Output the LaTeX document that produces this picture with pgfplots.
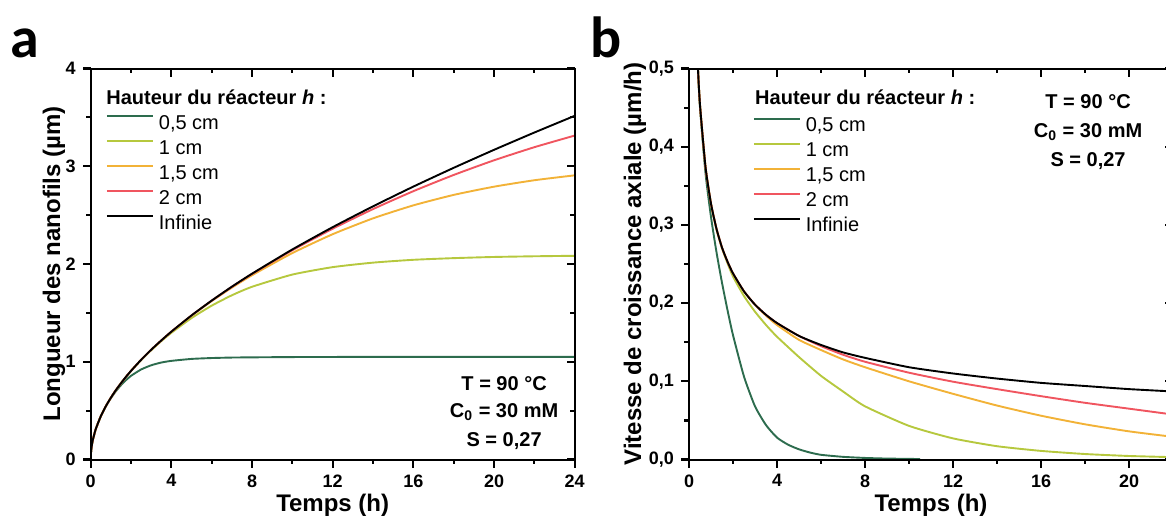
\documentclass[border=0pt]{standalone}
\usepackage{pgfplots}
\pgfplotsset{compat=1.18}
\usepackage{pgfplotstable}
\usepackage{fontspec}
\setmainfont{Liberation Sans}
\newfontfamily\letterfont{Carlito}
\definecolor{cg}{RGB}{45,108,78}
\definecolor{cy}{RGB}{182,200,62}
\definecolor{co}{RGB}{242,178,55}
\definecolor{cr}{RGB}{240,85,95}
\tikzset{tk/.style={black, line width=1.1pt}}

\pgfplotstableread{
t h05 h1 h15 h2 inf
0 0 0 0 0 0
0.02 0.087 0.087 0.087 0.087 0.087
0.05 0.137 0.137 0.137 0.137 0.137
0.1 0.195 0.195 0.195 0.195 0.195
0.25 0.310 0.311 0.311 0.311 0.311
0.5 0.442 0.442 0.442 0.442 0.442
0.75 0.543 0.545 0.545 0.545 0.545
1 0.627 0.632 0.632 0.632 0.632
1.25 0.699 0.709 0.710 0.710 0.710
1.5 0.760 0.780 0.780 0.780 0.780
1.75 0.812 0.845 0.846 0.846 0.846
2 0.856 0.906 0.907 0.907 0.907
2.5 0.921 1.017 1.020 1.020 1.020
3 0.964 1.118 1.123 1.123 1.123
3.5 0.992 1.211 1.217 1.218 1.218
4 1.009 1.296 1.307 1.308 1.308
5 1.029 1.447 1.471 1.473 1.474
6 1.038 1.574 1.621 1.625 1.626
7 1.043 1.680 1.758 1.766 1.768
8 1.045 1.767 1.885 1.898 1.901
10 1.048 1.892 2.112 2.141 2.149
12 1.049 1.968 2.305 2.361 2.377
14 1.050 2.014 2.467 2.562 2.590
16 1.050 2.043 2.600 2.745 2.792
18 1.050 2.060 2.707 2.911 2.984
20 1.050 2.072 2.791 3.061 3.168
22 1.050 2.079 2.857 3.195 3.345
24 1.050 2.084 2.907 3.314 3.516
}\tablelength

\pgfplotstableread{
t v
0.3 0.579
0.4 0.502
0.5 0.450
0.75 0.366
1 0.310
1.25 0.265
1.5 0.226
1.75 0.191
2 0.159
2.5 0.106
3 0.068
3.5 0.044
4 0.028
4.5 0.019
5 0.013
5.5 0.0089
6 0.006
7 0.0034
8 0.002
9 0.0012
10.5 0.0006
}\tablegreen

\pgfplotstableread{
t h1 h15 h2 inf
0.3 0.579 0.579 0.579 0.579
0.4 0.504 0.504 0.504 0.504
0.5 0.453 0.453 0.453 0.453
0.75 0.374 0.374 0.374 0.374
1 0.327 0.327 0.327 0.327
1.25 0.294 0.295 0.295 0.295
1.5 0.270 0.271 0.271 0.271
1.75 0.251 0.253 0.253 0.253
2 0.234 0.238 0.238 0.238
2.5 0.209 0.215 0.215 0.215
3 0.189 0.198 0.198 0.198
3.5 0.172 0.184 0.185 0.185
4 0.157 0.172 0.1745 0.1745
5 0.131 0.153 0.158 0.158
6 0.107 0.140 0.145 0.1465
7 0.087 0.128 0.134 0.137
8 0.068 0.118 0.125 0.130
10 0.043 0.100 0.111 0.118
12 0.027 0.084 0.0995 0.110
14 0.017 0.069 0.090 0.1035
16 0.011 0.056 0.081 0.098
18 0.007 0.045 0.0725 0.094
20 0.0045 0.036 0.065 0.090
22 0.003 0.029 0.0575 0.087
}\tablevelo

\pgfplotsset{
  myboxax/.style={
    scale only axis, width=242pt, height=195.5pt, anchor=south west,
    axis line style={line width=1pt},
    major tick length=4pt, minor tick length=2.4pt,
  },
  mypanelax/.style={
    myboxax, tick align=outside, xtick pos=left, ytick pos=left,
    ticklabel style={font=\bfseries\fontsize{9}{10}\selectfont},
    label style={font=\bfseries\fontsize{12}{14}\selectfont},
    xlabel style={at={(axis description cs:0.5,-0.134)}, anchor=base},
    legend style={draw=none, fill=none, inner sep=0pt, outer sep=0pt, row sep=0pt,
      font=\fontsize{10}{12}\selectfont,
      nodes={inner sep=0pt, text height=9pt, text depth=3.5pt},
      /tikz/every odd column/.append style={column sep=2.5pt}},
    legend cell align=left,
    legend image code/.code={\draw[##1] (0pt,3.6pt) -- (23pt,3.6pt);},
  },
  mymirrorax/.style={
    myboxax, clip=false, xtick=\empty, ytick=\empty,
  },
}

\begin{document}
\begin{tikzpicture}
\useasboundingbox (0pt,0pt) rectangle (583pt,259.5pt);

% ---------- Panel a ----------
\begin{axis}[mypanelax, at={(45.35pt,29.75pt)},
  xmin=0, xmax=24, ymin=0, ymax=4,
  xtick={0,4,...,24}, ytick={0,1,2,3,4},
  xticklabels={0,4,8,12,16,20,24}, yticklabels={0,1,2,3,4},
  xlabel={Temps (h)}, ylabel={Longueur des nanofils (µm)},
  ylabel style={at={(axis description cs:-0.0634,0.5)}, anchor=base},
  legend style={at={(axis description cs:0.0316,0.891)}, anchor=north west},
]
\addplot[cg, line width=0.95pt, smooth, tension=0.35] table[x=t, y=h05] {\tablelength};
\addlegendentry{0,5 cm}
\addplot[cy, line width=0.95pt, smooth, tension=0.35] table[x=t, y=h1] {\tablelength};
\addlegendentry{1 cm}
\addplot[co, line width=0.95pt, smooth, tension=0.35] table[x=t, y=h15] {\tablelength};
\addlegendentry{1,5 cm}
\addplot[cr, line width=0.95pt, smooth, tension=0.35] table[x=t, y=h2] {\tablelength};
\addlegendentry{2 cm}
\addplot[black, line width=0.95pt, smooth, tension=0.35] table[x=t, y=inf] {\tablelength};
\addlegendentry{Infinie}
\node[anchor=west, inner sep=0pt, font=\bfseries\fontsize{10}{12}\selectfont]
  at (axis description cs:0.0316,0.927) {Hauteur du réacteur \textit{h} :};
\node[anchor=base, inner sep=0pt, font=\bfseries\fontsize{10}{12}\selectfont]
  at (axis cs:20.5,0.711) {T = 90 °C};
\node[anchor=base, inner sep=0pt, font=\bfseries\fontsize{10}{12}\selectfont]
  at (axis cs:20.5,0.425) {C\textsubscript{0} = 30 mM};
\node[anchor=base, inner sep=0pt, font=\bfseries\fontsize{10}{12}\selectfont]
  at (axis cs:20.5,0.128) {S = 0,27};
\end{axis}
\begin{axis}[mymirrorax, at={(45.35pt,29.75pt)},
  xmin=0, xmax=24, ymin=0, ymax=4]
\pgfplotsinvokeforeach{0,4,8,12,16,20,24}{
  \draw[tk] (axis cs:#1,0) -- ++(0pt,-4pt);
  \draw[tk] (axis cs:#1,4) -- ++(0pt,-4pt);
}
\pgfplotsinvokeforeach{2,6,10,14,18,22}{
  \draw[tk] (axis cs:#1,0) -- ++(0pt,-2.4pt);
  \draw[tk] (axis cs:#1,4) -- ++(0pt,-2.4pt);
}
\pgfplotsinvokeforeach{0,1,2,3,4}{
  \draw[tk] (axis cs:0,#1) -- ++(-4pt,0pt);
  \draw[tk] (axis cs:24,#1) -- ++(-4pt,0pt);
}
\pgfplotsinvokeforeach{0.5,1.5,2.5,3.5}{
  \draw[tk] (axis cs:0,#1) -- ++(-2.4pt,0pt);
  \draw[tk] (axis cs:24,#1) -- ++(-2.4pt,0pt);
}
\end{axis}

% ---------- Panel b ----------
\begin{axis}[mypanelax, at={(344.5pt,29.75pt)},
  xmin=0, xmax=22, ymin=0, ymax=0.5,
  xtick={0,4,...,20}, ytick={0,0.1,0.2,0.3,0.4,0.5},
  xticklabels={0,4,8,12,16,20},
  yticklabels={{0,0},{0,1},{0,2},{0,3},{0,4},{0,5}},
  xlabel={Temps (h)}, ylabel={Vitesse de croissance axiale (µm/h)},
  ylabel style={at={(axis description cs:-0.099,0.5)}, anchor=base},
  legend style={at={(axis description cs:0.132,0.884)}, anchor=north west},
]
\addplot[cg, line width=0.95pt, smooth, tension=0.35] table[x=t, y=v] {\tablegreen};
\addlegendentry{0,5 cm}
\addplot[cy, line width=0.95pt, smooth, tension=0.35] table[x=t, y=h1] {\tablevelo};
\addlegendentry{1 cm}
\addplot[co, line width=0.95pt, smooth, tension=0.35] table[x=t, y=h15] {\tablevelo};
\addlegendentry{1,5 cm}
\addplot[cr, line width=0.95pt, smooth, tension=0.35] table[x=t, y=h2] {\tablevelo};
\addlegendentry{2 cm}
\addplot[black, line width=0.95pt, smooth, tension=0.35] table[x=t, y=inf] {\tablevelo};
\addlegendentry{Infinie}
\node[anchor=west, inner sep=0pt, font=\bfseries\fontsize{10}{12}\selectfont]
  at (axis description cs:0.136,0.926) {Hauteur du réacteur \textit{h} :};
\node[anchor=base, inner sep=0pt, font=\bfseries\fontsize{10}{12}\selectfont]
  at (axis cs:18.14,0.4488) {T = 90 °C};
\node[anchor=base, inner sep=0pt, font=\bfseries\fontsize{10}{12}\selectfont]
  at (axis cs:18.14,0.4118) {C\textsubscript{0} = 30 mM};
\node[anchor=base, inner sep=0pt, font=\bfseries\fontsize{10}{12}\selectfont]
  at (axis cs:18.14,0.3747) {S = 0,27};
\end{axis}
\begin{axis}[mymirrorax, at={(344.5pt,29.75pt)},
  xmin=0, xmax=22, ymin=0, ymax=0.5]
\pgfplotsinvokeforeach{0,4,8,12,16,20}{
  \draw[tk] (axis cs:#1,0) -- ++(0pt,-4pt);
  \draw[tk] (axis cs:#1,0.5) -- ++(0pt,-4pt);
}
\pgfplotsinvokeforeach{2,6,10,14,18}{
  \draw[tk] (axis cs:#1,0) -- ++(0pt,-2.4pt);
  \draw[tk] (axis cs:#1,0.5) -- ++(0pt,-2.4pt);
}
\pgfplotsinvokeforeach{0,0.1,0.2,0.3,0.4,0.5}{
  \draw[tk] (axis cs:0,#1) -- ++(-4pt,0pt);
  \draw[tk] (axis cs:22,#1) -- ++(-4pt,0pt);
}
\pgfplotsinvokeforeach{0.05,0.15,0.25,0.35,0.45}{
  \draw[tk] (axis cs:0,#1) -- ++(-2.4pt,0pt);
  \draw[tk] (axis cs:22,#1) -- ++(-2.4pt,0pt);
}
\end{axis}

\node[anchor=base west, inner sep=0pt, font=\letterfont\bfseries\fontsize{29}{30}\selectfont] at (5pt,230.5pt) {a};
\node[anchor=base west, inner sep=0pt, font=\letterfont\bfseries\fontsize{29}{30}\selectfont] at (295pt,230.5pt) {b};
\end{tikzpicture}
\end{document}
